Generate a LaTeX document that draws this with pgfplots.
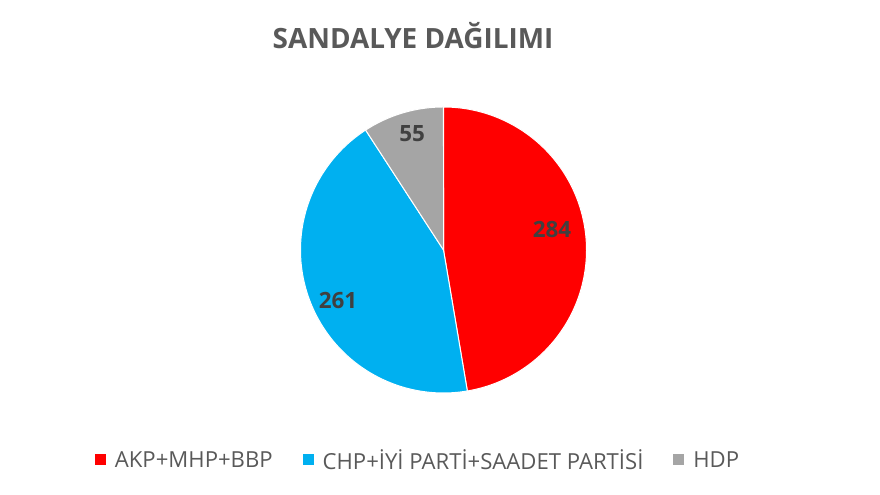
\documentclass[border=0pt]{standalone}
\usepackage{pgfplots}
\pgfplotsset{compat=1.18}
\usepackage{pgfplotstable}
\usepackage{fontspec}
\setmainfont{Open Sans}
\definecolor{titlegray}{HTML}{595959}
\definecolor{labgray}{HTML}{404040}
\definecolor{cred}{HTML}{FF0000}
\definecolor{cblue}{HTML}{00B0F0}
\definecolor{cgray}{HTML}{A5A5A5}

\pgfplotstableread{
party seats
A 284
C 261
H 55
}\seats

\begin{document}%
\begin{tikzpicture}[x=1bp,y=1bp]
\pgfplotstablegetelem{0}{seats}\of\seats \let\sA\pgfplotsretval
\pgfplotstablegetelem{1}{seats}\of\seats \let\sB\pgfplotsretval
\pgfplotstablegetelem{2}{seats}\of\seats \let\sC\pgfplotsretval
\pgfmathsetmacro{\tot}{\sA+\sB+\sC}
\pgfmathsetmacro{\aZero}{90}
\pgfmathsetmacro{\aOne}{90-\sA/\tot*360}
\pgfmathsetmacro{\aTwo}{\aOne-\sB/\tot*360}
\pgfmathsetmacro{\aThree}{\aTwo-\sC/\tot*360}
\path[use as bounding box] (0,0) rectangle (880,495);
\node[anchor=base, font=\bfseries\fontsize{28}{28}\selectfont, text=titlegray] at (413,446) {SANDALYE DAĞILIMI};
\begin{axis}[
  at={(443.5bp,245bp)}, anchor=center,
  scale only axis, width=286bp, height=286bp,
  xmin=-1, xmax=1, ymin=-1, ymax=1,
  hide axis, clip=false,
  legend columns=3,
  legend cell align=left,
  legend image code/.code={\path[#1, draw=none] (0bp,-5.5bp) rectangle (11bp,5.5bp);},
  legend style={draw=none, fill=none, at={(-0.73,-0.234)}, anchor=west,
    font=\fontsize{22.2}{23}\selectfont, text=titlegray,
    nodes={inner sep=0pt},
    /tikz/every odd column/.append style={column sep=9bp},
    /tikz/every even column/.append style={column sep=30bp}},
]
\addplot[fill=cred, draw=white, line width=1pt, domain=\aOne:\aZero, samples=120] ({cos(x)},{sin(x)}) -- (axis cs:0,0) -- cycle;
\addlegendentry{AKP+MHP+BBP}
\addplot[fill=cblue, draw=white, line width=1pt, domain=\aTwo:\aOne, samples=120] ({cos(x)},{sin(x)}) -- (axis cs:0,0) -- cycle;
\addlegendentry{CHP+İYİ PARTİ+SAADET PARTİSİ}
\addplot[fill=cgray, draw=white, line width=1pt, domain=\aThree:\aTwo, samples=40] ({cos(x)},{sin(x)}) -- (axis cs:0,0) -- cycle;
\addlegendentry{HDP}
\node[font=\bfseries\fontsize{22.5}{22}\selectfont, text=labgray] at (axis cs:0.759,0.140) {\sA};
\node[font=\bfseries\fontsize{22.5}{22}\selectfont, text=labgray] at (axis cs:-0.738,-0.350) {\sB};
\node[font=\bfseries\fontsize{22.5}{22}\selectfont, text=labgray] at (axis cs:-0.220,0.811) {\sC};
\end{axis}
\end{tikzpicture}%
\end{document}
